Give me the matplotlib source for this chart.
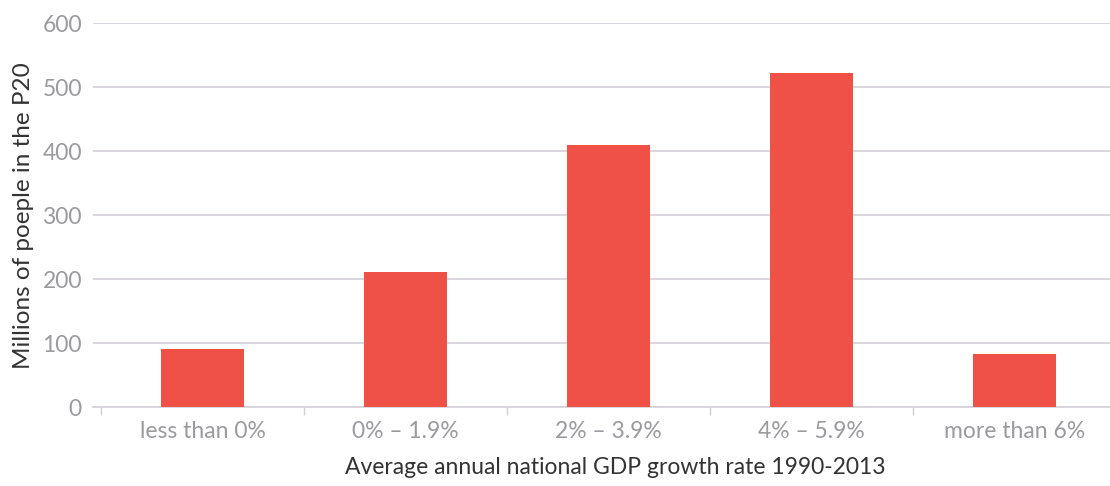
import numpy as np
import matplotlib
matplotlib.use("Agg")
import matplotlib.pyplot as plt

# growth-rate bands and people in the P20 (millions)
categories = ['less than 0%', '0% – 1.9%', '2% – 3.9%', '4% – 5.9%', 'more than 6%']
people = [91, 211, 410, 523, 84]
y_ticks = [0, 100, 200, 300, 400, 500, 600]

plt.rcParams['font.family'] = ['Lato', 'DejaVu Sans']

bar_color = '#F05146'
grid_color = '#D3D0D8'
tick_color = '#9A9A9F'
text_color = '#333333'

fig = plt.figure(figsize=(11.1, 4.86), dpi=100)
ax = fig.add_axes([0.0838, 0.162, 0.9162, 0.79])

x = np.arange(len(categories))
ax.bar(x, people, width=0.41, color=bar_color, zorder=3)

ax.set_ylim(0, 600)
ax.set_xlim(-0.54, 4.47)
ax.set_yticks(y_ticks)
ax.set_yticklabels([str(v) for v in y_ticks])
ax.yaxis.grid(True, color=grid_color, linewidth=1.2, zorder=0)

ax.set_xticks(x)
ax.set_xticklabels(categories)
ax.set_xticks(np.arange(-0.5, len(categories) - 0.5, 1.0), minor=True)

for side in ['top', 'right', 'left']:
    ax.spines[side].set_visible(False)
ax.spines['bottom'].set_color(grid_color)
ax.spines['bottom'].set_linewidth(1.2)

ax.tick_params(axis='y', length=0, pad=8, labelsize=16.5, labelcolor=tick_color)
ax.tick_params(axis='x', which='major', length=0, pad=10, labelsize=16.5, labelcolor=tick_color)
ax.tick_params(axis='x', which='minor', length=6, width=1, color=grid_color)

ax.set_ylabel('Millions of poeple in the P20', fontsize=17.5, color=text_color)
ax.yaxis.set_label_coords(-0.058, 0.5)
ax.set_xlabel('Average annual national GDP growth rate 1990-2013', fontsize=16.5,
              color=text_color)
ax.xaxis.set_label_coords(0.514, -0.13)

fig.savefig('out.png', dpi=100)
